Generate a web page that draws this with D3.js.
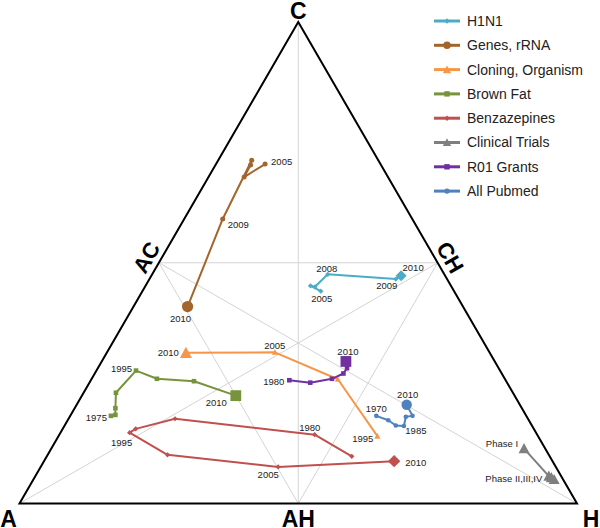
<!DOCTYPE html>
<html>
<head>
<meta charset="utf-8">
<script src="https://cdn.jsdelivr.net/npm/d3@7"></script>
<style>
  html, body { margin: 0; padding: 0; background: #fff; }
  svg { display: block; font-family: "Liberation Sans", Arial, sans-serif; }
</style>
</head>
<body>
<svg id="chart" width="600" height="528"></svg>
<script>
// ---------------- DATA (ternary compositions [A, C, H]) ----------------
const seriesNames = ["H1N1", "Genes, rRNA", "Cloning, Organism", "Brown Fat",
                     "Benzazepines", "Clinical Trials", "R01 Grants", "All Pubmed"];

const h1n1Labels = ["2005", "2006", "2007", "2008", "2009", "2010"];
const h1n1Values = [[0.239, 0.441, 0.320], [0.252, 0.452, 0.296], [0.245, 0.450, 0.305],
                    [0.209, 0.476, 0.315], [0.092, 0.466, 0.442], [0.079, 0.473, 0.448]];

const genesLabels = ["2005", "2006", "2007", "2008", "2009", "2010"];
const genesValues = [[0.207, 0.705, 0.088], [0.258, 0.678, 0.064], [0.234, 0.703, 0.063],
                     [0.227, 0.713, 0.060], [0.340, 0.591, 0.069], [0.494, 0.409, 0.097]];

const cloningLabels = ["1995", "2000", "2005", "2010"];
const cloningValues = [[0.288, 0.140, 0.572], [0.300, 0.258, 0.442],
                       [0.385, 0.314, 0.301], [0.545, 0.313, 0.142]];

const brownFatLabels = ["1975", "1980", "1985", "1990", "1995", "2000", "2005", "2010"];
const brownFatValues = [[0.745, 0.182, 0.073], [0.736, 0.184, 0.080], [0.729, 0.198, 0.073],
                        [0.712, 0.230, 0.058], [0.653, 0.276, 0.071], [0.624, 0.259, 0.117],
                        [0.560, 0.254, 0.186], [0.500, 0.224, 0.276]];

const benzLabels = ["1975", "1980", "1985", "1990", "1995", "2000", "2005", "2010"];
const benzValues = [[0.355, 0.098, 0.547], [0.399, 0.143, 0.458], [0.633, 0.176, 0.191],
                    [0.714, 0.155, 0.131], [0.729, 0.147, 0.124], [0.684, 0.101, 0.215],
                    [0.498, 0.076, 0.426], [0.284, 0.088, 0.628]];

const clinicalLabels = ["Phase I", "Phase II", "Phase III", "Phase IV"];
const clinicalValues = [[0.038, 0.114, 0.848], [0.022, 0.057, 0.921],
                        [0.019, 0.054, 0.927], [0.016, 0.050, 0.934]];

const r01Labels = ["1980", "1985", "1990", "1995", "2000", "2010"];
const r01Values = [[0.388, 0.256, 0.356], [0.353, 0.251, 0.396], [0.310, 0.259, 0.431],
                   [0.284, 0.270, 0.446], [0.272, 0.281, 0.447], [0.267, 0.295, 0.438]];

const pubmedLabels = ["1970", "1975", "1980", "1985", "1990", "1995", "2010"];
const pubmedValues = [[0.269, 0.182, 0.549], [0.252, 0.173, 0.575], [0.244, 0.162, 0.594],
                      [0.230, 0.161, 0.609], [0.217, 0.180, 0.603], [0.204, 0.182, 0.614],
                      [0.203, 0.205, 0.592]];

const vertexLabels = ["A", "C", "H"];
const edgeLabels = ["AC", "CH", "AH"];

// ---------------- STYLE / LAYOUT ----------------
const seriesData = [
  {name: seriesNames[0], labels: h1n1Labels, values: h1n1Values, color: "#4bacc6", shape: "diamond", small: 2.6, big: 5.5},
  {name: seriesNames[1], labels: genesLabels, values: genesValues, color: "#a3652b", shape: "circle", small: 2.5, big: 5.6},
  {name: seriesNames[2], labels: cloningLabels, values: cloningValues, color: "#f79646", shape: "triangle", small: 3, big: 6},
  {name: seriesNames[3], labels: brownFatLabels, values: brownFatValues, color: "#77933c", shape: "square", small: 2.3, big: 5.4},
  {name: seriesNames[4], labels: benzLabels, values: benzValues, color: "#c0504d", shape: "diamond", small: 2.6, big: 6.2},
  {name: seriesNames[5], labels: clinicalLabels, values: clinicalValues, color: "#7f7f7f", shape: "triangle", small: 5.5, big: 5.5},
  {name: seriesNames[6], labels: r01Labels, values: r01Values, color: "#7030a0", shape: "square", small: 2.3, big: 5.4},
  {name: seriesNames[7], labels: pubmedLabels, values: pubmedValues, color: "#4f81bd", shape: "circle", small: 2.3, big: 5.2}
];

// which point labels are shown: [series index, point index, text, dx, dy, anchor]
const annotations = [
  [0, 0, "2005", 1, 8, "middle"], [0, 3, "2008", -1, -6, "middle"],
  [0, 4, "2009", -9, 7, "middle"], [0, 5, "2010", 12, -8, "middle"],
  [1, 0, "2005", 6, -2, "start"], [1, 4, "2009", 5, 6, "start"], [1, 5, "2010", -7, 12, "middle"],
  [2, 0, "1995", -4, 3, "end"], [2, 2, "2005", 0, -7, "middle"], [2, 3, "2010", -7, 0, "end"],
  [3, 0, "1975", -4, 2, "end"], [3, 4, "1995", -4, -2, "end"], [3, 7, "2010", -9, 7, "end"],
  [4, 1, "1980", -5, -7, "middle"], [4, 4, "1995", -8, 10, "middle"],
  [4, 6, "2005", -10, 8, "middle"], [4, 7, "2010", 11, 2, "start"],
  [5, 0, "Phase I", -6, -5, "end"], [5, 2, "Phase II,III,IV", -9, 1, "end"],
  [6, 0, "1980", -5, 1, "end"], [6, 5, "2010", 2, -10, "middle"],
  [7, 0, "1970", 0, -7, "middle"], [7, 3, "1985", 12, 5, "middle"], [7, 6, "2010", 1, -10, "middle"]
];

const svg = d3.select("#chart");

// Ternary projection via linear scales
const xScale = d3.scaleLinear().domain([0, 1]).range([19.5, 577]);
const yScale = d3.scaleLinear().domain([0, 1]).range([503.5, 22]);
const project = ([a, c, h]) => [xScale(h + c / 2), yScale(c)];

const vA = project([1, 0, 0]), vC = project([0, 1, 0]), vH = project([0, 0, 1]);
const mAC = project([0.5, 0.5, 0]), mCH = project([0, 0.5, 0.5]), mAH = project([0.5, 0, 0.5]);

// gridlines: medians + inner triangle
const gridSegs = [[vA, mCH], [vC, mAH], [vH, mAC], [mAC, mCH], [mAC, mAH], [mCH, mAH]];
svg.append("g").selectAll("line").data(gridSegs).join("line")
  .attr("x1", d => d[0][0]).attr("y1", d => d[0][1])
  .attr("x2", d => d[1][0]).attr("y2", d => d[1][1])
  .attr("stroke", "#d4d4d4").attr("stroke-width", 1);

// outer triangle
svg.append("path")
  .attr("d", d3.line()([vA, vC, vH]) + "Z")
  .attr("fill", "none").attr("stroke", "#000").attr("stroke-width", 2)
  .attr("stroke-linejoin", "miter");

// marker path generator
function markerPath(shape, r) {
  switch (shape) {
    case "circle": return d3.symbol(d3.symbolCircle, Math.PI * r * r)();
    case "square": return `M${-r},${-r}H${r}V${r}H${-r}Z`;
    case "diamond": return `M0,${-r}L${r},0L0,${r}L${-r},0Z`;
    case "triangle": return `M0,${-r}L${r},${r * 0.85}L${-r},${r * 0.85}Z`;
  }
}

// series
const lineGen = d3.line().x(d => project(d)[0]).y(d => project(d)[1]);
const gSeries = svg.append("g");
seriesData.forEach(s => {
  const g = gSeries.append("g");
  g.append("path").attr("d", lineGen(s.values))
    .attr("fill", "none").attr("stroke", s.color).attr("stroke-width", 2)
    .attr("stroke-linejoin", "round");
  g.selectAll("path.m").data(s.values).join("path").attr("class", "m")
    .attr("transform", d => `translate(${project(d)[0]},${project(d)[1]})`)
    .attr("d", (d, i) => markerPath(s.shape, i === s.values.length - 1 ? s.big : s.small))
    .attr("fill", s.color);
});

// annotations
svg.append("g").selectAll("text").data(annotations).join("text")
  .attr("x", d => project(seriesData[d[0]].values[d[1]])[0] + d[3])
  .attr("y", d => project(seriesData[d[0]].values[d[1]])[1] + d[4])
  .attr("dy", "0.35em")
  .attr("text-anchor", d => d[5])
  .attr("font-size", 9.5).attr("fill", "#222")
  .text(d => d[2]);

// vertex labels
const vLab = svg.append("g").attr("font-weight", "bold").attr("font-size", 23).attr("fill", "#000");
vLab.append("text").attr("x", vA[0] - 11).attr("y", 526.5).attr("text-anchor", "middle").text(vertexLabels[0]);
vLab.append("text").attr("x", vC[0]).attr("y", 18.5).attr("text-anchor", "middle").text(vertexLabels[1]);
vLab.append("text").attr("x", vH[0] + 14).attr("y", 526.5).attr("text-anchor", "middle").text(vertexLabels[2]);
vLab.append("text").attr("x", mAH[0]).attr("y", 526.5).attr("text-anchor", "middle").text(edgeLabels[2]);
// edge labels placed just outside the edge midpoints
const perpOut = 13.5, along = 1.5;
vLab.append("text")
  .attr("transform", `translate(${mAC[0] - 0.866 * perpOut - 0.5 * along},${mAC[1] - 0.5 * perpOut + 0.866 * along}) rotate(-60)`)
  .attr("text-anchor", "middle").attr("dy", "0.35em").attr("font-size", 22).text(edgeLabels[0]);
vLab.append("text")
  .attr("transform", `translate(${mCH[0] + 0.866 * perpOut + 0.5 * along},${mCH[1] - 0.5 * perpOut + 0.866 * along}) rotate(60)`)
  .attr("text-anchor", "middle").attr("dy", "0.35em").attr("font-size", 22).text(edgeLabels[1]);

// legend
const legend = svg.append("g");
seriesData.forEach((s, i) => {
  const y = 21 + i * 24.3;
  legend.append("line").attr("x1", 434).attr("x2", 460).attr("y1", y).attr("y2", y)
    .attr("stroke", s.color).attr("stroke-width", 3);
  const r = s.shape === "circle" && i === 1 ? 3.8 : (s.shape === "triangle" ? 4.2 : 2.7);
  legend.append("path").attr("transform", `translate(447,${y})`)
    .attr("d", markerPath(s.shape, r)).attr("fill", s.color);
  legend.append("text").attr("x", 467).attr("y", y).attr("dy", "0.35em")
    .attr("font-size", 14).attr("fill", "#222").text(s.name);
});
</script>
</body>
</html>
